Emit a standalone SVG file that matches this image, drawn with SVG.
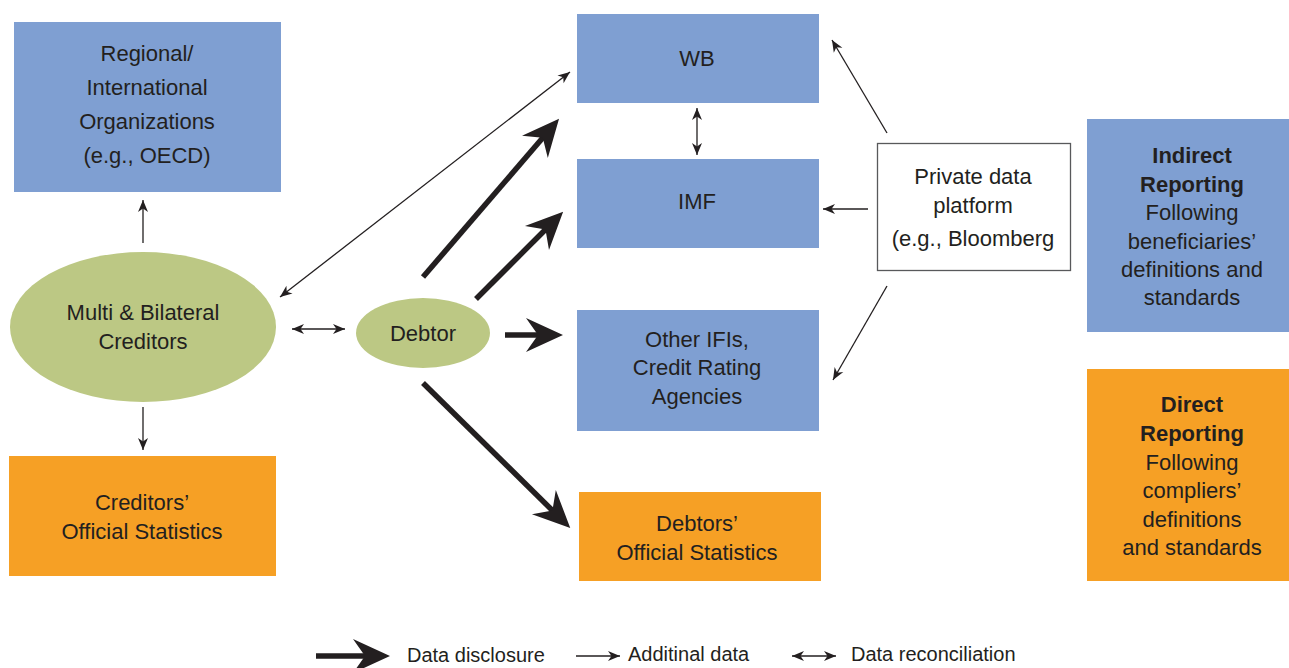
<svg xmlns="http://www.w3.org/2000/svg" width="1289" height="668" viewBox="0 0 1289 668">
<style>
.blue{fill:#7f9fd2}
.orange{fill:#f6a025}
.green{fill:#bcc884}
.t{font-family:"Liberation Sans",Arial,sans-serif;font-size:22px;fill:#231f20;text-anchor:middle}
.b{font-weight:bold}
.lg{font-family:"Liberation Sans",Arial,sans-serif;font-size:20px;fill:#231f20}
.thin{stroke:#231f20;stroke-width:1.3;fill:none}
.thick{stroke:#231f20;stroke-width:5.5;fill:none}
</style>
<defs>
<marker id="ht" viewBox="-40 -20 42 40" refX="-20" refY="0" markerWidth="42" markerHeight="40" markerUnits="userSpaceOnUse" orient="auto">
<path d="M0,0 L-37,-17 L-25,0 L-37,17 Z" fill="#231f20"/>
</marker>
<marker id="hs" viewBox="-13 -6 14 12" refX="0" refY="0" markerWidth="14" markerHeight="12" markerUnits="userSpaceOnUse" orient="auto-start-reverse">
<path d="M0,0 L-12,-5 L-8.5,0 L-12,5 Z" fill="#231f20"/>
</marker>
</defs>

<g id="regional">
<rect class="blue" x="14" y="22" width="267" height="170"/>
<text class="t" x="147" y="61">Regional/</text>
<text class="t" x="147" y="95">International</text>
<text class="t" x="147" y="129">Organizations</text>
<text class="t" x="147" y="163">(e.g., OECD)</text>
</g>
<g id="creditors">
<ellipse class="green" cx="143" cy="327" rx="133" ry="75"/>
<text class="t" x="143" y="320">Multi &amp; Bilateral</text>
<text class="t" x="143" y="349">Creditors</text>
</g>
<g id="creditors-stats">
<rect class="orange" x="9" y="456" width="267" height="120"/>
<text class="t" x="142" y="510">Creditors’</text>
<text class="t" x="142" y="539">Official Statistics</text>
</g>
<g id="debtor">
<ellipse class="green" cx="423" cy="333" rx="67" ry="35"/>
<text class="t" x="423" y="341">Debtor</text>
</g>
<g id="wb">
<rect class="blue" x="577" y="14" width="242" height="89"/>
<text class="t" x="697" y="66">WB</text>
</g>
<g id="imf">
<rect class="blue" x="577" y="159" width="242" height="89"/>
<text class="t" x="697" y="209">IMF</text>
</g>
<g id="other">
<rect class="blue" x="577" y="310" width="242" height="121"/>
<text class="t" x="697" y="347">Other IFIs,</text>
<text class="t" x="697" y="375">Credit Rating</text>
<text class="t" x="697" y="404">Agencies</text>
</g>
<g id="debtors-stats">
<rect class="orange" x="579" y="492" width="242" height="89"/>
<text class="t" x="697" y="531">Debtors’</text>
<text class="t" x="697" y="560">Official Statistics</text>
</g>
<g id="private">
<rect x="877.5" y="143.5" width="193" height="127" fill="#fff" stroke="#58595b" stroke-width="1.3"/>
<text class="t" x="973" y="184">Private data</text>
<text class="t" x="973" y="213">platform</text>
<text class="t" x="973" y="246">(e.g., Bloomberg</text>
</g>
<g id="indirect">
<rect class="blue" x="1087" y="119" width="202" height="213"/>
<text class="t b" x="1192" y="163">Indirect</text>
<text class="t b" x="1192" y="192">Reporting</text>
<text class="t" x="1192" y="220">Following</text>
<text class="t" x="1192" y="249">beneficiaries’</text>
<text class="t" x="1192" y="277">definitions and</text>
<text class="t" x="1192" y="305">standards</text>
</g>
<g id="direct">
<rect class="orange" x="1087" y="369" width="202" height="212"/>
<text class="t b" x="1192" y="412">Direct</text>
<text class="t b" x="1192" y="441">Reporting</text>
<text class="t" x="1192" y="470">Following</text>
<text class="t" x="1192" y="498">compliers’</text>
<text class="t" x="1192" y="527">definitions</text>
<text class="t" x="1192" y="555">and standards</text>
</g>

<g id="connectors">
<path class="thin" d="M143,243 L143,200" marker-end="url(#hs)"/>
<path class="thin" d="M143,407 L143,450" marker-end="url(#hs)"/>
<path class="thin" d="M292,329 L345,329" marker-start="url(#hs)" marker-end="url(#hs)"/>
<path class="thin" d="M280,297 L570,72" marker-start="url(#hs)" marker-end="url(#hs)"/>
<path class="thin" d="M697,108 L697,155" marker-start="url(#hs)" marker-end="url(#hs)"/>
<path class="thin" d="M887,133 L832,40" marker-end="url(#hs)"/>
<path class="thin" d="M868,209 L823,209" marker-end="url(#hs)"/>
<path class="thin" d="M887,286 L833,380" marker-end="url(#hs)"/>
<path class="thick" d="M423,277 L546,134" marker-end="url(#ht)"/>
<path class="thick" d="M476,299 L549,226" marker-end="url(#ht)"/>
<path class="thick" d="M505,335 L543,335" marker-end="url(#ht)"/>
<path class="thick" d="M423,383 L556,514" marker-end="url(#ht)"/>
</g>

<g id="legend">
<path class="thick" d="M316,656 L370,656" marker-end="url(#ht)"/>
<text class="lg" x="407" y="662">Data disclosure</text>
<path class="thin" d="M576,656 L620,656" marker-end="url(#hs)"/>
<text class="lg" x="628" y="661">Additinal data</text>
<path class="thin" d="M792,656 L836,656" marker-start="url(#hs)" marker-end="url(#hs)"/>
<text class="lg" x="851" y="661">Data reconciliation</text>
</g>
</svg>
